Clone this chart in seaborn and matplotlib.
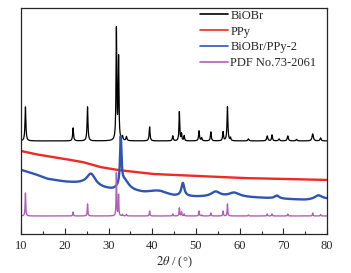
import numpy as np
import pandas as pd
import matplotlib
matplotlib.use('Agg')
import matplotlib.pyplot as plt
import seaborn as sns

# peak lists: (2theta, height, half width)
biobr_peaks = [(11.0, 34, 0.12), (21.9, 13, 0.12), (25.2, 34, 0.12), (31.8, 111, 0.1),
               (32.3, 82, 0.1), (33.2, 4, 0.12), (34.1, 4, 0.12), (39.4, 14, 0.12),
               (44.7, 5, 0.12), (46.2, 29, 0.1), (46.7, 7, 0.1), (47.3, 5, 0.1),
               (50.7, 10, 0.12), (51.3, 3, 0.12), (53.4, 9, 0.12), (56.2, 9, 0.12),
               (57.2, 34, 0.12), (57.9, 3, 0.1), (62.0, 2, 0.15), (66.3, 5, 0.15),
               (67.4, 6, 0.12), (69.0, 2, 0.15), (71.0, 5, 0.15), (73.0, 1.5, 0.15),
               (76.7, 7, 0.18), (78.5, 3, 0.15)]
biobr_base_x = [10, 80]
biobr_base_y = [93, 93]

ppy_base_x = [10, 13, 17, 20, 24, 28, 32, 36, 40, 45, 50, 55, 60, 70, 80]
ppy_base_y = [83, 80, 77, 75, 72, 67, 64, 62, 60, 59, 58, 57, 56, 55, 54]

comp_base_x = [10, 13, 16, 20, 24, 28, 31, 34, 38, 42, 45, 50, 55, 60, 65, 70, 75, 80]
comp_base_y = [64, 60, 55, 52, 50, 46, 43, 43, 41, 41, 38, 37, 37, 37, 36, 35, 34, 35]
comp_peaks = [(26.0, 12, 1.2), (32.8, 47, 0.2), (33.6, 10, 1.3), (41.0, 2, 2.0),
              (47.0, 13, 0.4), (54.5, 5, 1.2), (58.7, 4, 1.4), (68.5, 3, 0.6), (78.0, 4, 1.0)]

pdf_peaks = [(11.0, 23, 0.08), (21.9, 4, 0.08), (25.2, 12, 0.08), (31.8, 43, 0.07),
             (32.3, 21, 0.07), (33.2, 1.5, 0.08), (34.1, 1.5, 0.08), (39.4, 5, 0.08),
             (44.7, 2, 0.08), (46.2, 8, 0.08), (46.7, 4, 0.08), (47.3, 2, 0.08),
             (50.7, 5, 0.08), (51.3, 1, 0.08), (53.4, 3, 0.08), (56.2, 5, 0.08),
             (57.2, 12, 0.08), (62.0, 1, 0.08), (66.3, 2, 0.08), (67.4, 2, 0.08),
             (71.0, 2, 0.08), (76.7, 3, 0.08), (78.5, 1.5, 0.08)]
pdf_base_x = [10, 80]
pdf_base_y = [18, 18]

labels = ['BiOBr', 'PPy', 'BiOBr/PPy-2', 'PDF No.73-2061']
colors = ['#000000', '#ee2a24', '#2d56b4', '#b060b8']

x = np.arange(10, 80.001, 0.02)


def pattern(bx, by, peaks):
    y = np.interp(x, bx, by)
    for c, h, w in peaks:
        y = y + h / (1 + ((x - c) / w) ** 2)
    return y


curves = [pattern(biobr_base_x, biobr_base_y, biobr_peaks),
          pattern(ppy_base_x, ppy_base_y, []),
          pattern(comp_base_x, comp_base_y, comp_peaks),
          pattern(pdf_base_x, pdf_base_y, pdf_peaks)]

df = pd.concat([pd.DataFrame({'x': x, 'y': c, 'sample': l}) for l, c in zip(labels, curves)])

sns.set_style('ticks')
plt.rcParams['font.family'] = ['Liberation Serif', 'DejaVu Serif']
plt.rcParams['mathtext.fontset'] = 'stix'

fig = plt.figure(figsize=(3.51, 2.73), dpi=100)
ax = fig.add_axes([0.060, 0.143, 0.872, 0.828])

sns.lineplot(data=df, x='x', y='y', hue='sample', palette=colors, estimator=None,
             sort=False, ax=ax, linewidth=1.0)
for line, lw in zip(ax.get_lines(), [0.9, 1.7, 1.7, 1.0]):
    line.set_linewidth(lw)

ax.set_xlim(10, 80)
ax.set_ylim(0, 226)
ax.set_yticks([])
ax.set_xticks(range(10, 81, 10))
ax.set_xticks(range(15, 80, 10), minor=True)
ax.tick_params(axis='x', direction='in', length=4, width=0.8, labelsize=9, pad=4)
ax.tick_params(axis='x', which='minor', direction='in', length=2.5, width=0.8)
for s in ax.spines.values():
    s.set_linewidth(0.9)
ax.set_xlabel(r'$2\theta$ / (°)', fontsize=9, labelpad=2)
ax.set_ylabel('')

leg = ax.legend(loc='upper right', bbox_to_anchor=(0.99, 1.025), frameon=False, fontsize=9,
                handlelength=2.2, labelspacing=0.3, handletextpad=0.2, borderaxespad=0.2)
for h in leg.get_lines():
    h.set_linewidth(1.2)

fig.savefig('out.png', dpi=100)
